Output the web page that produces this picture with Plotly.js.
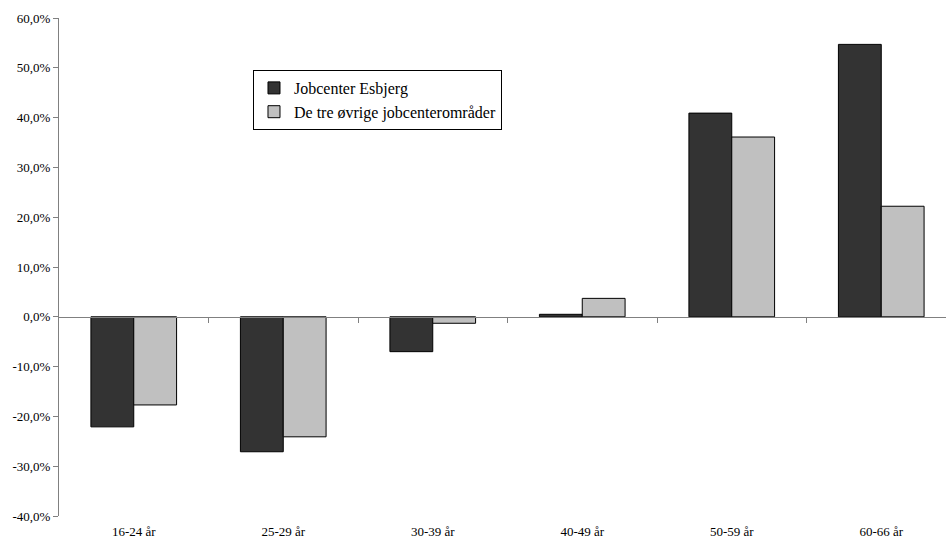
<!DOCTYPE html>
<html>
<head>
<meta charset="utf-8">
<script src="https://cdn.plot.ly/plotly-3.0.1.min.js"></script>
<style>html,body{margin:0;padding:0;background:#fff;}#chart{width:946px;height:539px;}</style>
</head>
<body>
<div id="chart"></div>
<script>
const categories = ["16-24 år", "25-29 år", "30-39 år", "40-49 år", "50-59 år", "60-66 år"];
const esbjerg = [-22.1, -27.1, -7.0, 0.5, 40.9, 54.7];
const oevrige = [-17.7, -24.1, -1.3, 3.7, 36.1, 22.2];
const seriesNames = ["Jobcenter Esbjerg", "De tre øvrige jobcenterområder"];
const yTickVals = [-40, -30, -20, -10, 0, 10, 20, 30, 40, 50, 60];
const yTickText = ["-40,0%", "-30,0%", "-20,0%", "-10,0%", "0,0%", "10,0%", "20,0%", "30,0%", "40,0%", "50,0%", "60,0%"];

const xIdx = categories.map((c, i) => i);
const boundaries = categories.slice(1).map((c, i) => i + 0.5);
const font = {family: "Liberation Serif, Times New Roman, serif", size: 13, color: "#000"};
const legendFont = {family: "Liberation Serif, Times New Roman, serif", size: 16, color: "#000"};

const traces = [
  {type: "bar", name: seriesNames[0], x: xIdx, y: esbjerg, legendgroup: "a",
   marker: {color: "#333333", line: {color: "#000", width: 1}}, hoverinfo: "skip"},
  {type: "bar", name: seriesNames[1], x: xIdx, y: oevrige, legendgroup: "b",
   marker: {color: "#c0c0c0", line: {color: "#000", width: 1}}, hoverinfo: "skip"},
  {type: "scatter", x: [], y: [], xaxis: "x2", yaxis: "y2", showlegend: false, hoverinfo: "skip"}
];

const xr = [-0.5, 5.5 - 10 / 149.5];
const layout = {
  width: 946, height: 539,
  margin: {l: 59, r: 0, t: 18, b: 23},
  paper_bgcolor: "#fff", plot_bgcolor: "rgba(0,0,0,0)",
  font: font,
  barmode: "group",
  bargap: 0.427, bargroupgap: 0,
  showlegend: true,
  legend: {x: 0.2187, y: 0.8956, xanchor: "left", yanchor: "top",
           bgcolor: "#fff", bordercolor: "#000", borderwidth: 1,
           font: legendFont, traceorder: "grouped", tracegroupgap: 0,
           entrywidth: 222},
  xaxis: {type: "linear", range: xr, tickvals: xIdx, ticktext: categories,
          showline: false, ticks: "", showgrid: false, zeroline: false,
          ticklabelstandoff: 6, tickfont: font, fixedrange: true},
  yaxis: {range: [-40, 60], tickvals: yTickVals, ticktext: yTickText,
          showline: true, linecolor: "#808080", linewidth: 1,
          ticks: "outside", ticklen: 5, tickcolor: "#808080",
          showgrid: false, zeroline: false, tickfont: font, fixedrange: true},
  xaxis2: {type: "linear", range: xr, anchor: "y2", overlaying: "x",
           tickvals: boundaries, showticklabels: false,
           showline: true, linecolor: "#808080", linewidth: 1,
           ticks: "outside", ticklen: 5, tickcolor: "#808080",
           showgrid: false, zeroline: false, fixedrange: true},
  yaxis2: {domain: [0.4, 1], anchor: "x2", visible: false, range: [0, 1], fixedrange: true}
};

Plotly.newPlot("chart", traces, layout, {staticPlot: true, displayModeBar: false});
</script>
</body>
</html>
